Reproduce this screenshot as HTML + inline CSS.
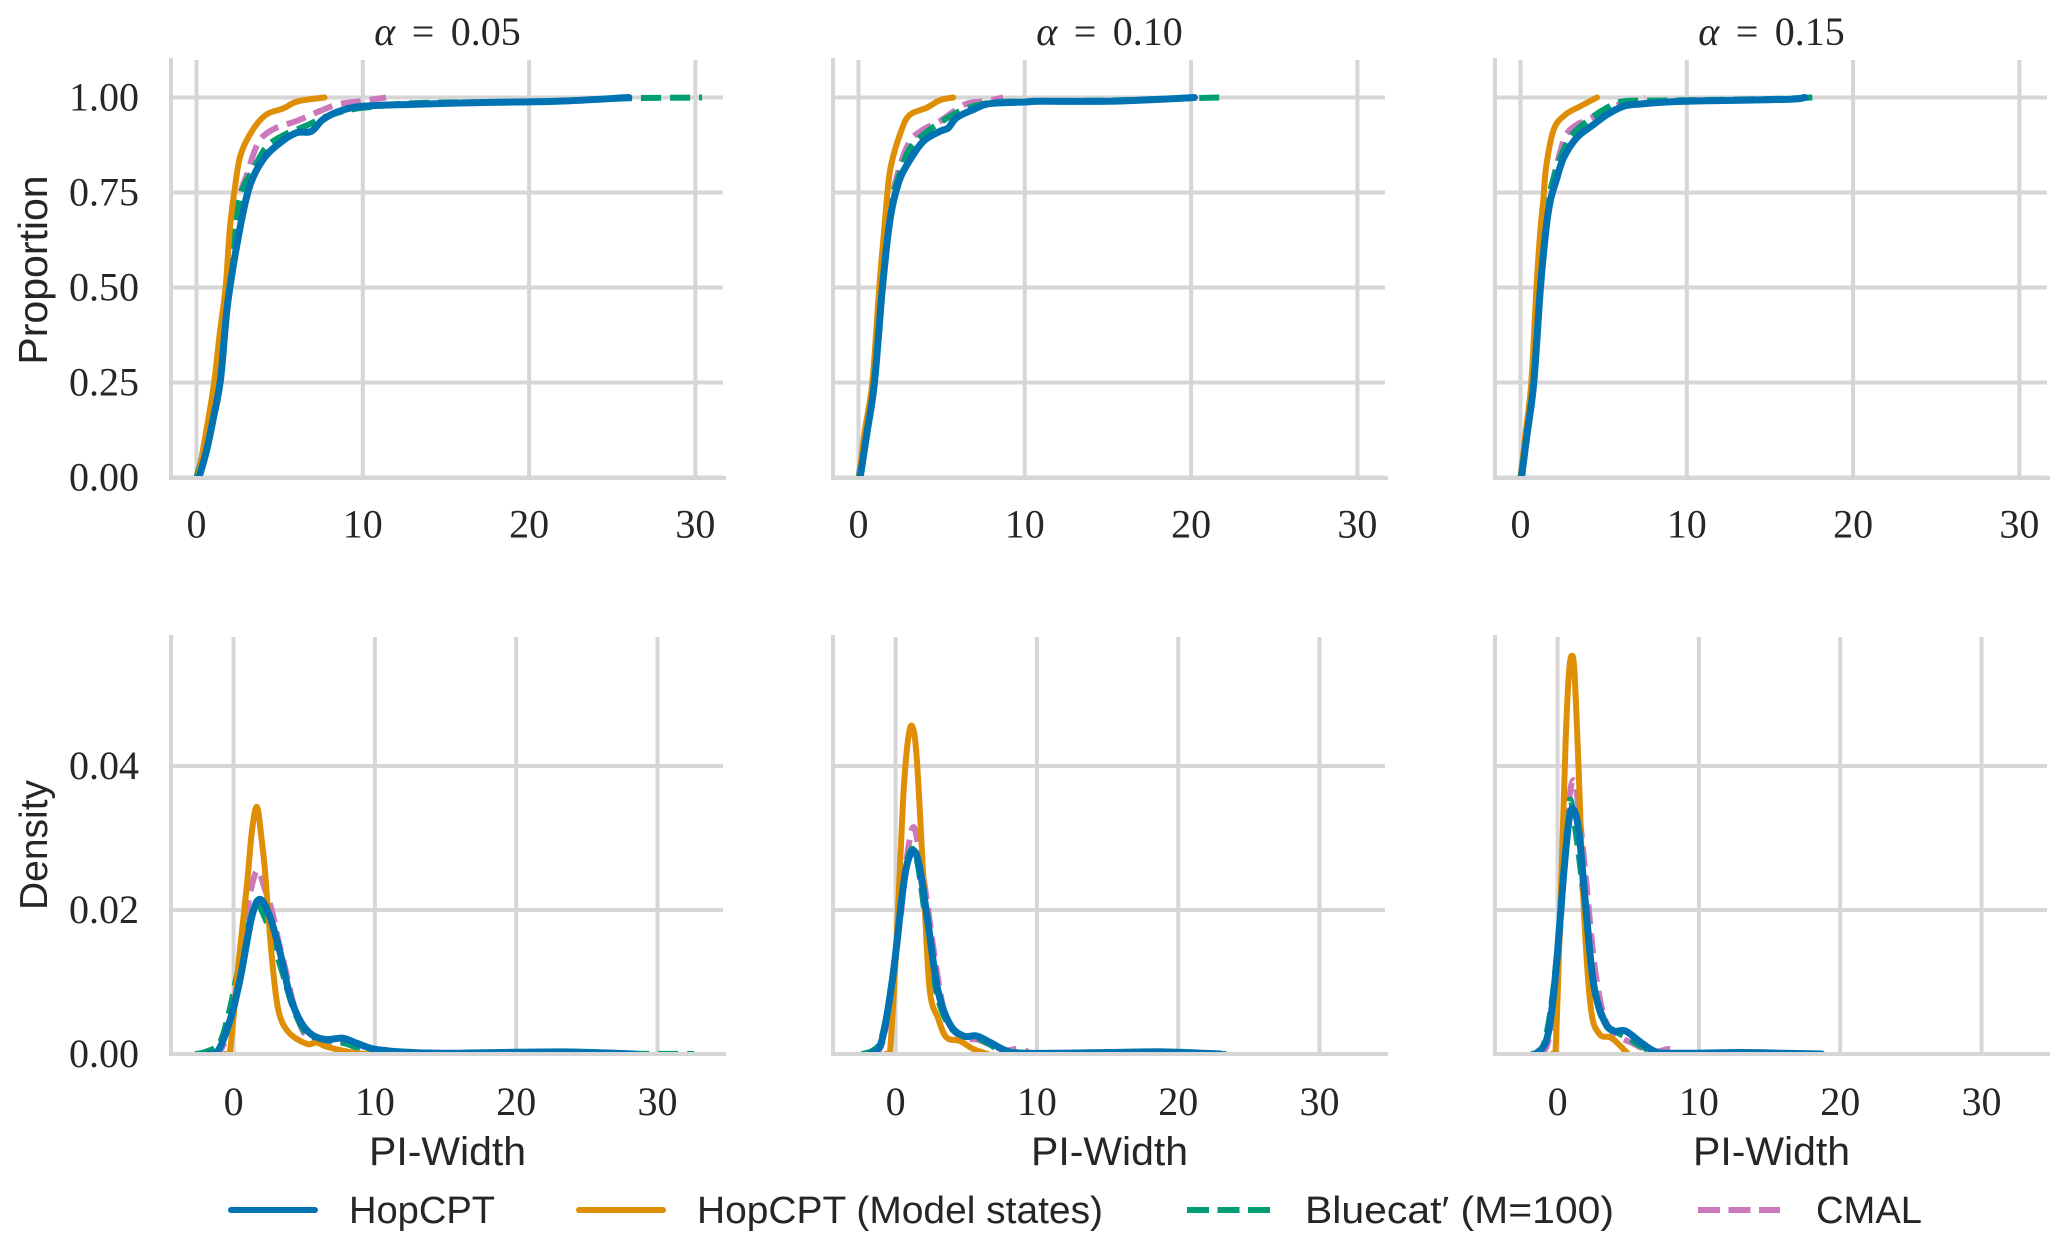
<!DOCTYPE html>
<html lang="en">
<head>
<meta charset="utf-8">
<title>PI-Width distributions</title>
<style>
html,body{margin:0;padding:0;background:#fff;}
svg{display:block;}
text{fill:#262626;}
.serif{font-family:"Liberation Serif",serif;}
.sans{font-family:"Liberation Sans",sans-serif;}
</style>
</head>
<body>
<svg id="chart" xmlns="http://www.w3.org/2000/svg" width="2067" height="1252" viewBox="0 0 2067 1252">
  <defs id="clips"></defs>
  <g id="panels"></g>
  <g id="legend">
    <g>
      <line x1="231" y1="1210" x2="315" y2="1210" stroke="#0173b2" stroke-width="6" stroke-linecap="round"/>
      <text class="sans" x="349" y="1223" font-size="38" textLength="146" lengthAdjust="spacingAndGlyphs">HopCPT</text>
    </g>
    <g>
      <line x1="579" y1="1210" x2="663" y2="1210" stroke="#de8f05" stroke-width="6" stroke-linecap="round"/>
      <text class="sans" x="697" y="1223" font-size="38" textLength="406" lengthAdjust="spacingAndGlyphs">HopCPT (Model states)</text>
    </g>
    <g>
      <line x1="1187" y1="1210" x2="1270" y2="1210" stroke="#029e73" stroke-width="6" stroke-dasharray="22 8.5"/>
      <text class="sans" x="1305" y="1223" font-size="38" textLength="309" lengthAdjust="spacingAndGlyphs">Bluecat′ (M=100)</text>
    </g>
    <g>
      <line x1="1698" y1="1210" x2="1780" y2="1210" stroke="#cc78bc" stroke-width="6" stroke-dasharray="22 8.5"/>
      <text class="sans" x="1816" y="1223" font-size="38" textLength="106" lengthAdjust="spacingAndGlyphs">CMAL</text>
    </g>
  </g>
</svg>
<script>
// ---------- tick and label data ----------
const xTickValues = [0, 10, 20, 30];
const xTickLabels = ['0', '10', '20', '30'];
const cdfTickValues = [0, 0.25, 0.5, 0.75, 1];
const cdfTickLabels = ['0.00', '0.25', '0.50', '0.75', '1.00'];
const kdeTickValues = [0, 0.02, 0.04];
const kdeTickLabels = ['0.00', '0.02', '0.04'];
const alphaLabels = ['0.05', '0.10', '0.15'];
const seriesNames = ['cmal', 'bluecat', 'hopcpt-model-states', 'hopcpt'];

// ---------- ECDF: [PI-width, proportion] ----------
const cdfHop05 = [[0.15,0],[0.6,0.07],[1,0.153],[1.45,0.26],[1.88,0.46],[2.6,0.653],[3.2,0.767],[4,0.837],[5,0.88],[6,0.907],[6.9,0.911],[7.6,0.942],[8.6,0.964],[10,0.977],[13,0.982],[17.4,0.987],[21.7,0.99],[26,1]];
const cdfOrange05 = [[0.1,0],[0.5,0.1],[1.03,0.24],[1.4,0.38],[1.75,0.5],[2,0.653],[2.3,0.76],[2.66,0.85],[3.4,0.916],[4.2,0.955],[5.2,0.971],[6.1,0.99],[7.7,1]];
const cdfGreen05 = [[0,0],[0.5,0.08],[1,0.18],[1.4,0.3],[1.75,0.46],[2.2,0.64],[2.7,0.75],[3.4,0.81],[4.2,0.87],[5.2,0.9],[6,0.915],[6.8,0.93],[7.5,0.945],[8.5,0.96],[9.5,0.97],[10.5,0.975],[13,0.985],[18,0.988],[22,0.991],[26,0.998],[30.4,1]];
const cdfPink05 = [[0,0],[0.6,0.1],[1.2,0.2],[1.8,0.47],[2.3,0.66],[2.65,0.75],[3,0.793],[3.7,0.88],[4.6,0.916],[6,0.938],[7.4,0.964],[8.5,0.982],[9.8,0.99],[11.4,1]];

const cdfHop10 = [[0.1,0],[0.5,0.115],[0.96,0.25],[1.44,0.5],[1.9,0.68],[2.4,0.775],[3,0.829],[3.9,0.885],[4.9,0.911],[5.4,0.92],[5.9,0.947],[6.9,0.968],[7.9,0.984],[10,0.988],[10.9,0.99],[15,0.99],[18,0.995],[20.2,1]];
const cdfOrange10 = [[0.05,0],[0.35,0.115],[0.83,0.25],[1.25,0.5],[1.7,0.73],[1.95,0.82],[2.6,0.916],[3.1,0.955],[4.1,0.973],[4.9,0.993],[5.7,1]];
const cdfGreen10 = [[0.02,0],[0.42,0.115],[0.86,0.25],[1.34,0.5],[1.8,0.69],[2.4,0.79],[3,0.859],[3.7,0.895],[4.9,0.934],[6.3,0.968],[7.9,0.986],[10,0.99],[15,0.992],[18,0.996],[21.7,1]];
const cdfPink10 = [[0,0],[0.38,0.115],[0.84,0.25],[1.34,0.5],[1.85,0.7],[2.5,0.82],[3.1,0.885],[3.9,0.916],[4.9,0.938],[6.4,0.982],[7.7,0.991],[8.7,1]];

const cdfHop15 = [[0.06,0],[0.4,0.115],[0.8,0.25],[1.2,0.5],[1.55,0.66],[1.8,0.73],[2.1,0.775],[2.6,0.842],[3.4,0.895],[4.4,0.929],[5.2,0.955],[6.2,0.977],[7.2,0.983],[8.8,0.988],[10.8,0.991],[16,0.995],[17.1,1]];
const cdfOrange15 = [[0.02,0],[0.3,0.115],[0.65,0.25],[0.96,0.5],[1.2,0.653],[1.37,0.73],[1.55,0.82],[2,0.916],[2.7,0.955],[3.6,0.977],[4.6,1]];
const cdfGreen15 = [[0,0],[0.34,0.115],[0.72,0.25],[1.12,0.5],[1.5,0.68],[2,0.79],[2.9,0.889],[4,0.938],[5.2,0.973],[6.2,0.99],[8.8,0.992],[15,0.996],[17.6,1]];
const cdfPink15 = [[0,0],[0.33,0.115],[0.74,0.25],[1.16,0.5],[1.6,0.7],[2.4,0.859],[3,0.916],[4.4,0.95],[5.6,0.977],[6.8,0.99],[7.5,1]];

// ---------- KDE: [PI-width, density] ----------
const kdeHop05 = [[-1.8,0],[-1.08,0.0005],[-0.25,0.0047],[0.45,0.0103],[1.28,0.019],[1.87,0.0215],[2.58,0.019],[3.3,0.014],[4,0.008],[4.8,0.0043],[5.6,0.0026],[6.6,0.002],[7.7,0.0022],[8.7,0.0015],[9.9,0.0007],[11.8,0.0003],[15,0.0001],[23,0.0003],[28.4,0]];
const kdeOrange05 = [[-0.6,0],[-0.25,0.0005],[0.3,0.0117],[0.93,0.0232],[1.3,0.031],[1.66,0.0343],[2,0.0295],[2.22,0.0255],[2.58,0.0163],[2.93,0.0092],[3.3,0.0051],[4,0.0028],[5.2,0.0014],[5.9,0.0016],[6.6,0.001],[8.4,0.0002],[9.5,0]];
const kdeGreen05 = [[-2.7,0],[-2,0.0003],[-1,0.0015],[-0.3,0.006],[0.3,0.0115],[1,0.0175],[1.6,0.0208],[2.2,0.019],[2.8,0.0155],[3.5,0.011],[4.2,0.0065],[5,0.0032],[6,0.0021],[7,0.0018],[8,0.0014],[9,0.0007],[10.5,0.0002],[20,0.0001],[32.6,0]];
const kdePink05 = [[-1.6,0],[-1,0.0003],[-0.2,0.004],[0.4,0.0105],[0.9,0.019],[1.3,0.0235],[1.73,0.0255],[2.2,0.023],[2.7,0.02],[3.2,0.0155],[3.7,0.0115],[4.3,0.0065],[4.9,0.0032],[5.5,0.002],[6.3,0.0015],[7.2,0.0017],[8,0.0015],[9,0.0008],[10.5,0.0006],[11.3,0.0005],[12,0.0001]];

const kdeHop10 = [[-1.8,0],[-1,0.0017],[-0.2,0.0107],[0.5,0.0226],[0.87,0.0268],[1.3,0.0282],[1.7,0.0259],[2.3,0.0181],[3,0.0088],[3.85,0.0041],[4.8,0.0025],[5.75,0.0025],[6.7,0.0016],[7.9,0.0004],[9.1,0.0001],[15,0.0002],[19,0.0003],[23,0]];
const kdeOrange10 = [[-0.7,0],[-0.4,0.0002],[0.07,0.0157],[0.52,0.035],[0.87,0.0435],[1.18,0.0455],[1.5,0.041],[1.95,0.025],[2.4,0.0092],[3,0.005],[3.6,0.0023],[4.55,0.0018],[5.5,0.0007],[6.5,0]];
const kdeGreen10 = [[-2.4,0],[-1.6,0.0005],[-1,0.0022],[-0.3,0.0095],[0.4,0.0215],[0.8,0.0265],[1.2,0.0285],[1.6,0.026],[2.2,0.0175],[2.9,0.0085],[3.7,0.0042],[4.6,0.0026],[5.6,0.0024],[6.5,0.0015],[7.5,0.0005],[9,0.0002],[12,0.0001],[23.5,0]];
const kdePink10 = [[-1.8,0],[-1,0.0012],[-0.3,0.0085],[0.4,0.02],[0.85,0.028],[1.25,0.0315],[1.65,0.0285],[2.2,0.0215],[2.8,0.013],[3.4,0.0062],[4,0.0035],[4.8,0.0022],[5.8,0.002],[6.8,0.0012],[7.8,0.0005],[8.8,0.0008],[9.4,0.0002]];

const kdeHop15 = [[-1.55,0],[-0.73,0.0023],[-0.14,0.0111],[0.43,0.025],[0.8,0.0324],[1.1,0.034],[1.5,0.031],[2,0.0203],[2.55,0.0097],[3.3,0.0046],[4,0.0032],[4.8,0.0032],[5.9,0.0016],[6.85,0.0004],[8,0.0001],[13,0.0002],[16,0.0001],[18.7,0]];
const kdeOrange15 = [[-0.4,0],[-0.15,0.0003],[0.2,0.0203],[0.57,0.0435],[0.8,0.0528],[1,0.0553],[1.2,0.0528],[1.5,0.0389],[1.85,0.0203],[2.35,0.0064],[2.95,0.0028],[3.75,0.0023],[4.35,0.0013],[5,0]];
const kdeGreen15 = [[-1.8,0],[-1,0.0012],[-0.3,0.009],[0.3,0.0225],[0.7,0.033],[0.92,0.0353],[1.2,0.032],[1.6,0.026],[2.1,0.017],[2.7,0.008],[3.4,0.004],[4.2,0.003],[5,0.0022],[5.8,0.0012],[6.8,0.0003],[8,0.0001],[12,0.0001],[18.7,0]];
const kdePink15 = [[-1.4,0],[-0.7,0.0015],[-0.1,0.0095],[0.4,0.024],[0.8,0.035],[1.15,0.038],[1.5,0.034],[2,0.0245],[2.6,0.0125],[3.2,0.0058],[3.8,0.0032],[4.5,0.0022],[5.3,0.0015],[6.2,0.0006],[7,0.0003],[7.9,0.0007],[8.6,0.0001]];

const cdfPanels = [
  [cdfPink05, cdfGreen05, cdfOrange05, cdfHop05],
  [cdfPink10, cdfGreen10, cdfOrange10, cdfHop10],
  [cdfPink15, cdfGreen15, cdfOrange15, cdfHop15]
];
const kdePanels = [
  [kdePink05, kdeGreen05, kdeOrange05, kdeHop05],
  [kdePink10, kdeGreen10, kdeOrange10, kdeHop10],
  [kdePink15, kdeGreen15, kdeOrange15, kdeHop15]
];

// ---------- layout and drawing ----------
const NS = 'http://www.w3.org/2000/svg';
const colors = ['#cc78bc', '#029e73', '#de8f05', '#0173b2'];
const widths = [6, 6, 6, 7];
const dashes = ['20 9', '20 9', null, null];
const colStep = 662;
const axisLeft = 171;
const axisRight = 725;
const cdfLayout = { top: 58, bottom: 478, x0: 196.5, xUnit: 16.63, y0: 477.5, yUnit: 380 };
const kdeLayout = { top: 635, bottom: 1054, x0: 233.6, xUnit: 14.13, y0: 1054, yUnit: 7200 };
const panelsRoot = document.getElementById('panels');
const clipsRoot = document.getElementById('clips');

function make(tag, attrs, parent) {
  const el = document.createElementNS(NS, tag);
  for (const key in attrs) el.setAttribute(key, attrs[key]);
  parent.appendChild(el);
  return el;
}
function scaleX(layout, col, v) { return layout.x0 + col * colStep + layout.xUnit * v; }
function scaleY(layout, v) { return layout.y0 - layout.yUnit * v; }

function smoothPath(pts) {
  let d = 'M' + pts[0][0].toFixed(2) + ' ' + pts[0][1].toFixed(2);
  for (let i = 0; i < pts.length - 1; i++) {
    const p0 = pts[Math.max(i - 1, 0)], p1 = pts[i], p2 = pts[i + 1], p3 = pts[Math.min(i + 2, pts.length - 1)];
    const c1x = p1[0] + (p2[0] - p0[0]) / 6, c1y = p1[1] + (p2[1] - p0[1]) / 6;
    const c2x = p2[0] - (p3[0] - p1[0]) / 6, c2y = p2[1] - (p3[1] - p1[1]) / 6;
    d += 'C' + c1x.toFixed(2) + ' ' + c1y.toFixed(2) + ' ' + c2x.toFixed(2) + ' ' + c2y.toFixed(2) + ' ' + p2[0].toFixed(2) + ' ' + p2[1].toFixed(2);
  }
  return d;
}

function drawPanel(kind, col, layout, seriesList, yValues, yLabels, pathFn) {
  const left = axisLeft + col * colStep;
  const right = axisRight + col * colStep;
  const panel = make('g', {}, panelsRoot);
  
  

  const clipId = 'clip-' + kind + '-' + col;
  const clip = make('clipPath', { id: clipId }, clipsRoot);
  make('rect', { x: left, y: layout.top, width: right - left + 2, height: layout.y0 - layout.top }, clip);

  // grid
  xTickValues.forEach(function (v, i) {
    const x = scaleX(layout, col, v);
    const grid = make('line', { x1: x, x2: x, y1: layout.top + 2, y2: layout.bottom - 1, stroke: '#d6d6d6', 'stroke-width': 4 }, panel);
    
    
    const label = make('text', { x: x, y: layout.y0 + (kind === 'cdf' ? 60 : 61), 'text-anchor': 'middle', 'font-size': 40, class: 'serif' }, panel);
    
    
    label.textContent = xTickLabels[i];
  });
  yValues.forEach(function (v, i) {
    const y = scaleY(layout, v);
    const grid = make('line', { x1: left, x2: right - 2, y1: y, y2: y, stroke: '#d6d6d6', 'stroke-width': 4 }, panel);
    
    
    if (col === 0) {
      const label = make('text', { x: 139, y: y + 13, 'text-anchor': 'end', 'font-size': 40, class: 'serif' }, panel);
      
      
      label.textContent = yLabels[i];
    }
  });

  // series
  seriesList.forEach(function (data, s) {
    const pts = data.map(function (d) { return [scaleX(layout, col, d[0]), scaleY(layout, d[1])]; });
    const line = make('path', {
      d: pathFn(pts), fill: 'none', stroke: colors[s], 'stroke-width': widths[s],
      'stroke-linejoin': 'round', 'clip-path': 'url(#' + clipId + ')'
    }, panel);
    
    
    if (dashes[s]) line.setAttribute('stroke-dasharray', dashes[s]);
    else line.setAttribute('stroke-linecap', 'round');
  });

  // spines (above the lines)
  const spineLeft = make('line', { x1: left, x2: left, y1: layout.top, y2: layout.bottom + 1, stroke: '#d6d6d6', 'stroke-width': 4 }, panel);
  
  
  const spineBottom = make('line', { x1: left - 2, x2: right + 1, y1: layout.bottom, y2: layout.bottom, stroke: '#d6d6d6', 'stroke-width': 4 }, panel);
  
  

  const centerX = (left + right) / 2 - 0.5;
  if (kind === 'cdf') {
    const title = make('text', { x: centerX, y: 45, 'text-anchor': 'middle', 'font-size': 40, 'word-spacing': 6.5, class: 'serif' }, panel);
    
    
    const alpha = make('tspan', { 'font-style': 'italic' }, title);
    alpha.textContent = 'α';
    const rest = make('tspan', {}, title);
    rest.textContent = ' = ' + alphaLabels[col];
  } else {
    const xTitle = make('text', { x: centerX, y: 1165, 'text-anchor': 'middle', 'font-size': 40, class: 'sans', textLength: 157, lengthAdjust: 'spacingAndGlyphs' }, panel);
    
    
    xTitle.textContent = 'PI-Width';
  }
  if (col === 0) {
    const centerY = kind === 'cdf' ? 270 : 845;
    const yTitle = make('text', { transform: 'translate(47,' + centerY + ') rotate(-90)', 'text-anchor': 'middle', 'font-size': kind === 'cdf' ? 41 : 39, class: 'sans' }, panel);
    
    
    yTitle.textContent = kind === 'cdf' ? 'Proportion' : 'Density';
  }
}

for (let col = 0; col < 3; col++) {
  drawPanel('cdf', col, cdfLayout, cdfPanels[col], cdfTickValues, cdfTickLabels, smoothPath);
  drawPanel('kde', col, kdeLayout, kdePanels[col], kdeTickValues, kdeTickLabels, smoothPath);
}
</script>
</body>
</html>
